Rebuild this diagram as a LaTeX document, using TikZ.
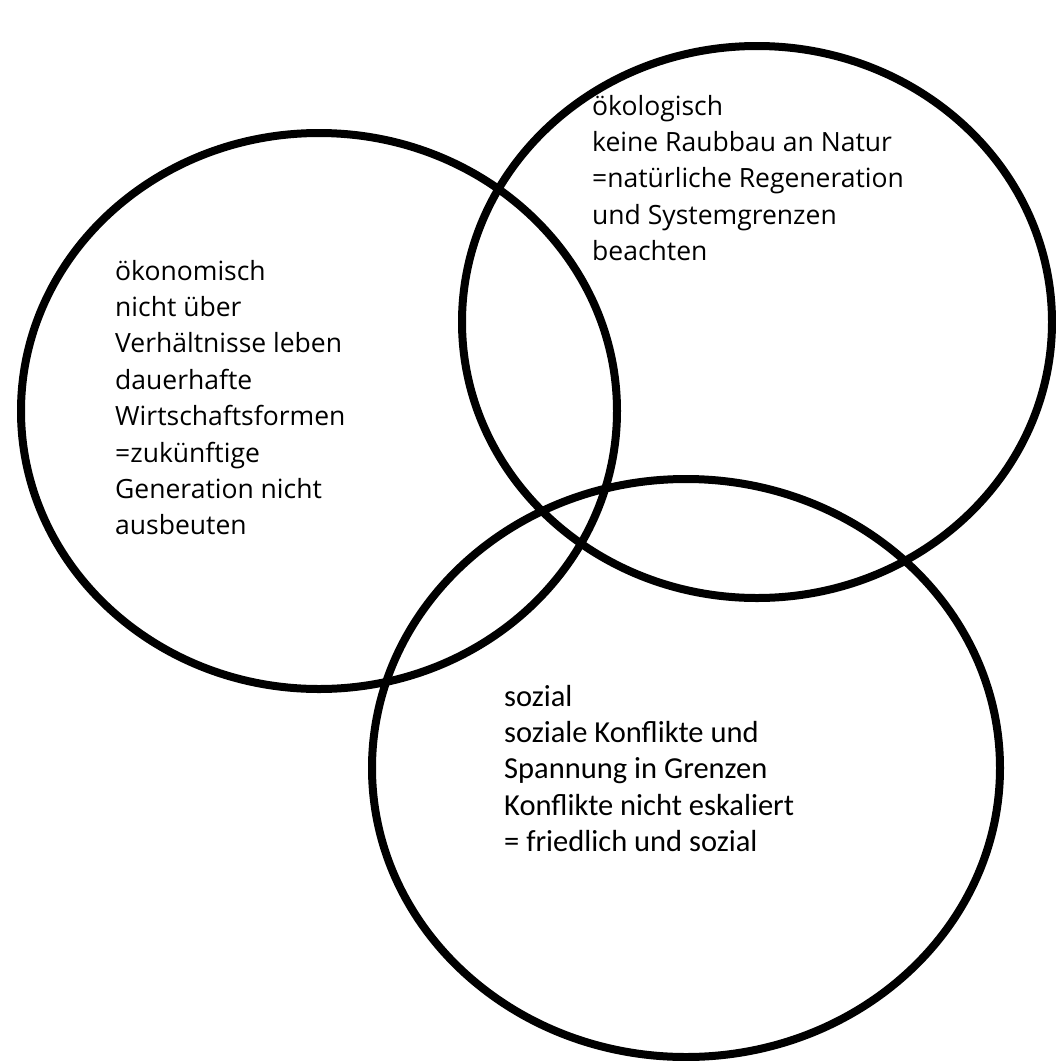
\documentclass[tikz,border=0pt]{standalone}
\usepackage{fontspec}
\newfontfamily\segoe{Open Sans}
\newfontfamily\calib{Carlito}
\tikzset{
  ring/.style={draw=black, line width=8pt},
  blocktext/.style={anchor=base west, inner sep=0pt, text=black}
}
\newcommand{\linesA}[1]{\vtop{\baselineskip=36.4pt\lineskiplimit=-100pt #1}}
\begin{document}
\begin{tikzpicture}[x=1pt,y=-1pt]
\useasboundingbox (0,0) rectangle (1056,1061);
\fill[white] (0,0) rectangle (1056,1061);
% circles
\draw[ring] (319,411) ellipse [x radius=298pt, y radius=278pt];
\draw[ring] (757,322) ellipse [x radius=295pt, y radius=276pt];
\draw[ring] (686,768) ellipse [x radius=314pt, y radius=289pt];
% texts
\node[blocktext] (oeko) at (115,280) {\segoe\fontsize{26.5}{36.4}\selectfont\linesA{%
\hbox{ökonomisch}\hbox{nicht über}\hbox{Verhältnisse leben}\hbox{dauerhafte}%
\hbox{Wirtschaftsformen}\hbox{=zukünftige}\hbox{Generation nicht}\hbox{ausbeuten}}};
\node[blocktext] (oekol) at (592,115) {\segoe\fontsize{26.5}{36.4}\selectfont\linesA{%
\hbox{ökologisch}\hbox{keine Raubbau an Natur}\hbox{=natürliche Regeneration}%
\hbox{und Systemgrenzen}\hbox{beachten}}};
\node[blocktext] (sozial) at (504,706) {\calib\fontsize{30.5}{36.4}\selectfont\linesA{%
\hbox{sozial}\hbox{soziale Konflikte und}\hbox{Spannung in Grenzen}%
\hbox{Konflikte nicht eskaliert}\hbox{= friedlich und sozial}}};
\end{tikzpicture}
\end{document}
